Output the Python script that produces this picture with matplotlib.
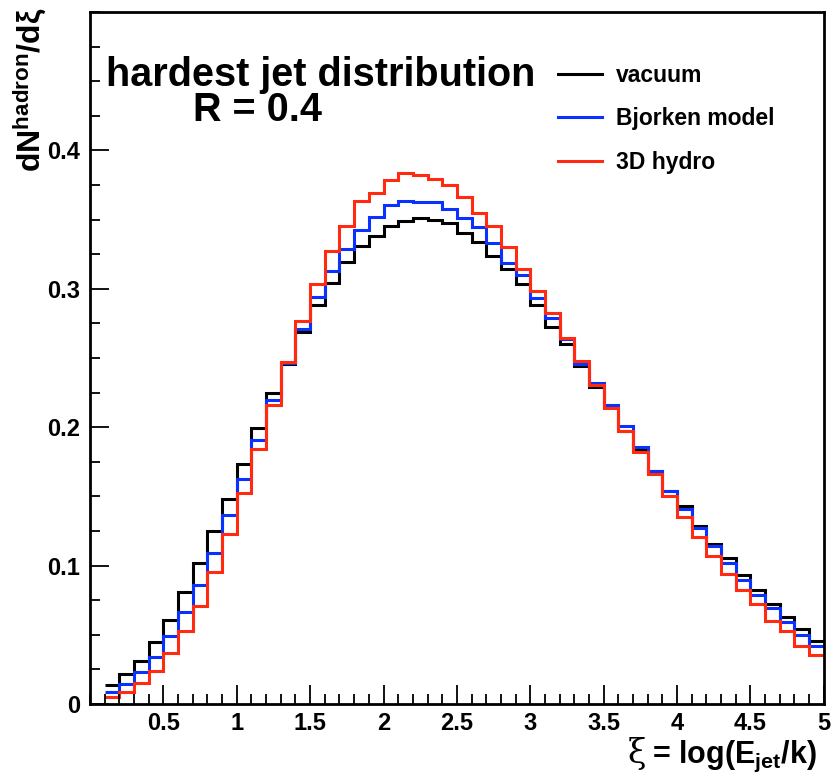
import matplotlib
matplotlib.use("Agg")
import matplotlib.pyplot as plt
import numpy as np
from matplotlib.ticker import MultipleLocator

plt.rcParams['font.family'] = ['Liberation Sans', 'DejaVu Sans']
plt.rcParams['font.weight'] = 'bold'
plt.rcParams['mathtext.fontset'] = 'custom'
plt.rcParams['mathtext.rm'] = 'Liberation Sans:bold'
plt.rcParams['mathtext.bf'] = 'Liberation Sans:bold'
plt.rcParams['mathtext.it'] = 'Liberation Sans:bold'

# bin edges in xi (49 bins of 0.1 from 0.1 to 5.0)
edges = np.round(np.linspace(0.1, 5.0, 50), 2)

vacuum = [0.014, 0.022, 0.031, 0.045, 0.061, 0.081, 0.102, 0.125, 0.148, 0.1735,
          0.1996, 0.225, 0.246, 0.269, 0.288, 0.3044, 0.3193, 0.3312, 0.3384, 0.3451,
          0.3488, 0.3515, 0.350, 0.3473, 0.3403, 0.3338, 0.3234, 0.3145, 0.3032, 0.2885,
          0.2723, 0.260, 0.2439, 0.2287, 0.2145, 0.1976, 0.1845, 0.168, 0.154, 0.1434,
          0.1284, 0.1157, 0.1053, 0.0935, 0.0824, 0.0723, 0.0631, 0.0542, 0.0458]

bjorken = [0.009, 0.0147, 0.0234, 0.0342, 0.0489, 0.0663, 0.0863, 0.1094, 0.1366, 0.1627,
           0.191, 0.2198, 0.2466, 0.2711, 0.294, 0.3126, 0.3287, 0.3427, 0.3518, 0.3608,
           0.3633, 0.3624, 0.363, 0.3579, 0.3514, 0.3446, 0.3331, 0.3189, 0.3103, 0.2933,
           0.2788, 0.2636, 0.2458, 0.2316, 0.2157, 0.2007, 0.1855, 0.1682, 0.1542, 0.141,
           0.127, 0.114, 0.102, 0.0897, 0.0788, 0.0694, 0.0595, 0.0499, 0.0422]

hydro = [0.005, 0.0089, 0.0149, 0.0239, 0.0369, 0.0525, 0.0711, 0.0954, 0.1228, 0.1526,
         0.1844, 0.2157, 0.2468, 0.2768, 0.3035, 0.3275, 0.3456, 0.3634, 0.369, 0.3784,
         0.3838, 0.3821, 0.3796, 0.3753, 0.3661, 0.3547, 0.3451, 0.3299, 0.314, 0.2981,
         0.2824, 0.2646, 0.2477, 0.2302, 0.2137, 0.1976, 0.182, 0.1663, 0.1506, 0.1349,
         0.121, 0.1072, 0.094, 0.0824, 0.0723, 0.0602, 0.0525, 0.0422, 0.0356]

labels = ['vacuum', 'Bjorken model', '3D hydro']
colors = ['black', '#0a32ff', '#ff2a10']

xticks = [0.5, 1, 1.5, 2, 2.5, 3, 3.5, 4, 4.5, 5]
xticklabels = ['0.5', '1', '1.5', '2', '2.5', '3', '3.5', '4', '4.5', '5']
yticks = [0, 0.1, 0.2, 0.3, 0.4]
yticklabels = ['0', '0.1', '0.2', '0.3', '0.4']

fig = plt.figure(figsize=(8.33, 7.79), dpi=100)
ax = fig.add_axes([0.108, 0.0963, 0.881, 0.8883])

for vals, lab, col in zip([vacuum, bjorken, hydro], labels, colors):
    ax.stairs(vals, edges, baseline=None, color=col, linewidth=2.2, label=lab)

ax.set_xlim(0, 5)
ax.set_ylim(0, 0.5)
ax.set_xticks(xticks)
ax.set_xticklabels(xticklabels)
ax.set_yticks(yticks)
ax.set_yticklabels(yticklabels)
ax.xaxis.set_minor_locator(MultipleLocator(0.1))
ax.yaxis.set_minor_locator(MultipleLocator(0.025))
ax.tick_params(which='both', direction='in', width=1.3, labelsize=17)
ax.tick_params(which='major', length=14)
ax.tick_params(which='minor', length=7)
ax.tick_params(axis='x', pad=6)
ax.tick_params(axis='y', pad=7)
for s in ax.spines.values():
    s.set_linewidth(2)

# y title, ROOT style: aligned to the top end
ax.set_ylabel(r'$\mathbf{dN^{hadron}/d\xi}$', fontsize=23, loc='top')
ax.yaxis.set_label_coords(-0.056, 1.006)

# x title, ROOT style: aligned to the right end, below tick labels
fig.text(0.775, 0.0205, '\u03be', fontsize=24, family='DejaVu Serif',
         fontweight='normal', ha='right', va='baseline')
fig.text(0.783, 0.0205, r'= log(E$_{\mathbf{jet}}$/k)', fontsize=22,
         ha='left', va='baseline', fontweight='bold')

ax.text(0.022, 0.893, 'hardest jet distribution', transform=ax.transAxes,
        fontsize=28.5, fontweight='bold', ha='left', va='baseline')
ax.text(0.141, 0.843, 'R = 0.4', transform=ax.transAxes,
        fontsize=28.5, fontweight='bold', ha='left', va='baseline')

ax.legend(loc='upper left', bbox_to_anchor=(0.61, 0.955), frameon=False,
          fontsize=16.5, handlelength=1.9, labelspacing=0.9, handletextpad=0.6)

fig.savefig('out.png', dpi=100)
